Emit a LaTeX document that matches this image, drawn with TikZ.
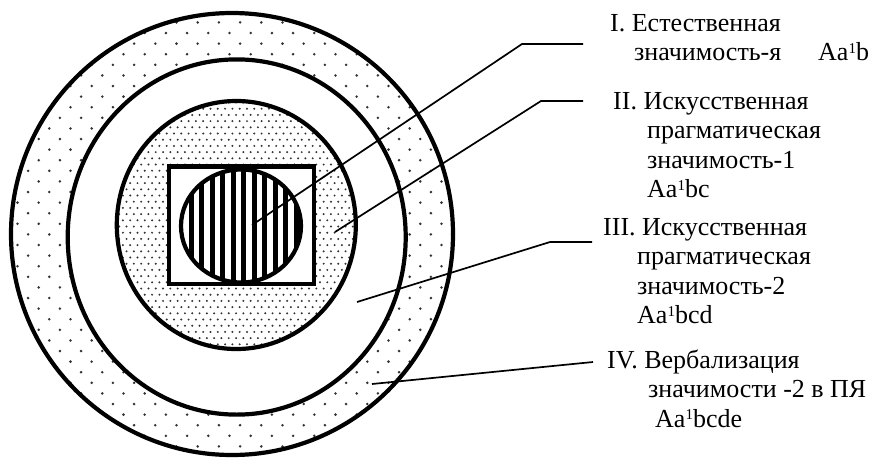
\documentclass[tikz,border=0pt]{standalone}
\usepackage{fontspec}
\setmainfont{Liberation Serif}
\newfontfamily\lblserif{Liberation Serif}
\usepackage{tikz}
\newcommand{\lblfont}{\lblserif\fontsize{26}{29.5}\selectfont}
\newcommand{\supone}{\raisebox{7.5pt}{\fontsize{15}{15}\selectfont 1}}

\begin{document}
\begin{tikzpicture}[x=1pt, y=-1pt,
    ring/.style={draw=black, line width=4.2pt},
    leader/.style={draw=black, line width=1.7pt},
    sparsedot/.style={fill=black!80},
    densedot/.style={fill=black!80},
    lbl/.style={anchor=base west, inner sep=0pt, font=\lblfont}]
    \useasboundingbox (0,0) rectangle (876,459);

    % outer ring, sparse dots
    \begin{scope}
        \clip (232,234) ellipse (221 and 221);
        \foreach \j in {0,...,43}
            \foreach \i in {0,...,22}
                \fill[sparsedot] ({-14.3+21.2*\i+10.6*mod(\j,2)}, {86+10.6*(\j-8)}) circle (1.4);
    \end{scope}
    \fill[white] (236.7,237) ellipse (169 and 177.6);

    % inner circle, dense dots
    \begin{scope}
        \clip (236.3,225) ellipse (119.5 and 124);
        \foreach \j in {0,...,42}
            \foreach \i in {0,...,35}
                \fill[densedot] ({108.3+7.3*\i+3.65*mod(\j,2)}, {96.3+6.2*\j}) circle (1.1);
    \end{scope}
    \fill[white] (169,166.5) rectangle (314,284);

    % hatched core
    \begin{scope}
        \clip (241,226) ellipse (60 and 56.5);
        \foreach \k in {-3,...,10}
            \fill[black] ({201.7+10.5*\k-2.3}, 160) rectangle ++(4.6, 130);
    \end{scope}

    \draw[ring] (232,234) ellipse (221 and 221);
    \draw[ring] (236.7,237) ellipse (169 and 177.6);
    \draw[ring] (236.3,225) ellipse (119.5 and 124);
    \draw[ring] (169,166.5) rectangle (314,284);
    \draw[ring] (241,226) ellipse (60 and 56.5);

    % labels
    \node[lbl] (lab1) at (610,31) {\begin{tabular}[t]{@{}l@{}}
        I. Естественная\\
        \hspace*{24pt}\makebox[184pt][l]{значимость-я}Aa\supone b
        \end{tabular}};
    \node[lbl] (lab2) at (613,109) {\begin{tabular}[t]{@{}l@{}}
        II. Искусственная\\
        \hspace*{34pt}прагматическая\\
        \hspace*{34pt}значимость-1\\
        \hspace*{34pt}Aa\supone bc
        \end{tabular}};
    \node[lbl] (lab3) at (603,235) {\begin{tabular}[t]{@{}l@{}}
        III. Искусственная\\
        \hspace*{34pt}прагматическая\\
        \hspace*{34pt}значимость-2\\
        \hspace*{34pt}Aa\supone bcd
        \end{tabular}};
    \node[lbl] (lab4) at (607,368) {\begin{tabular}[t]{@{}l@{}}
        IV. Вербализация\\
        \hspace*{41pt}значимости -2 в ПЯ\\
        \hspace*{48pt}Aa\supone bcde
        \end{tabular}};

    % leader lines
    \coordinate (p1) at (252,225);
    \coordinate (k1) at (522,44);
    \coordinate (e1) at (583,44);
    \coordinate (p2) at (335,232);
    \coordinate (k2) at (541,101);
    \coordinate (e2) at (583,101);
    \coordinate (p3) at (357,302);
    \coordinate (k3) at (550,242);
    \coordinate (e3) at (592,242);
    \coordinate (p4) at (372,384);
    \coordinate (e4) at (593,362);

    \draw[leader] (p1) -- (k1) -- (e1);
    \draw[leader] (p2) -- (k2) -- (e2);
    \draw[leader] (p3) -- (k3) -- (e3);
    \draw[leader] (p4) -- (e4);
\end{tikzpicture}
\end{document}
